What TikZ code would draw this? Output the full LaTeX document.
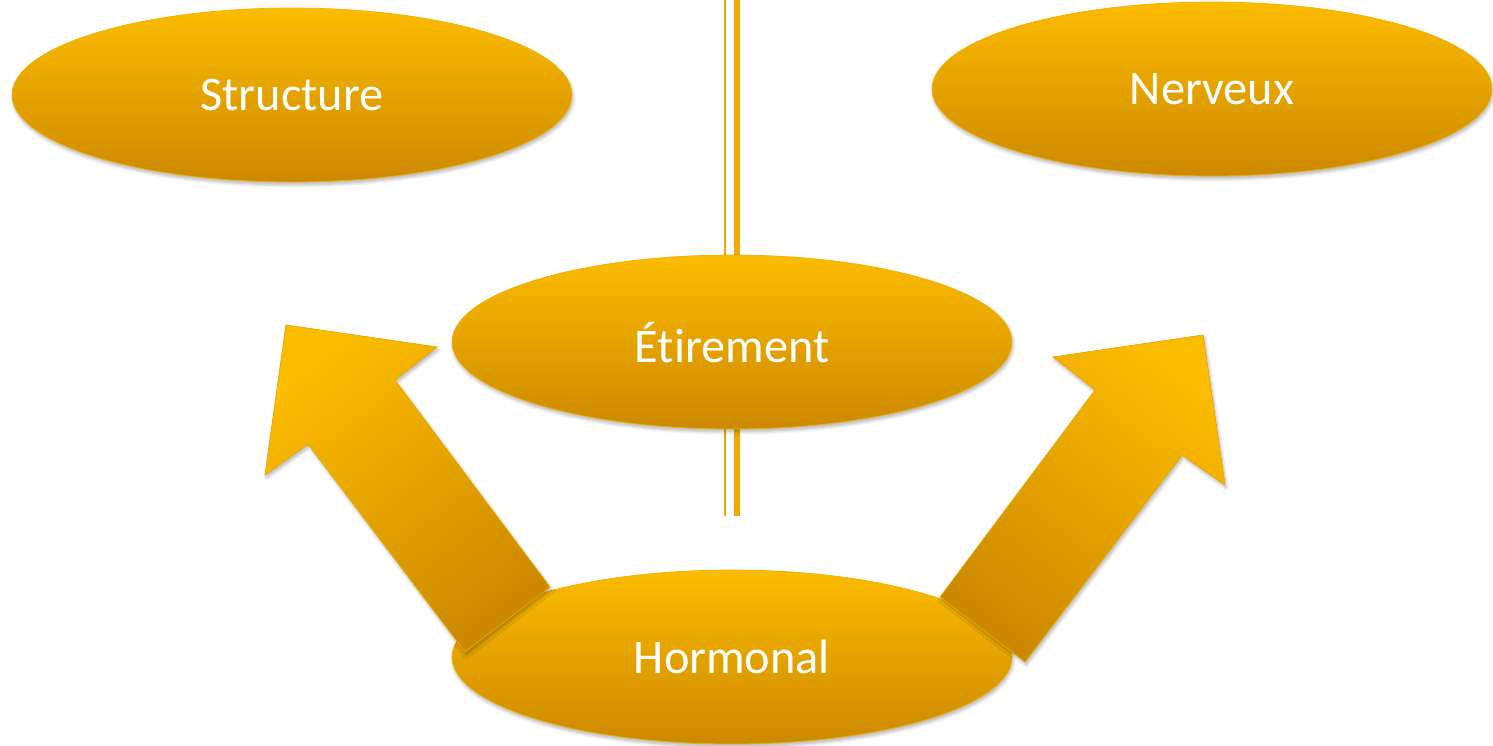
\documentclass[tikz,border=0pt]{standalone}
\usepackage{fontspec}
\setmainfont[Ligatures=NoCommon]{Carlito}
\usetikzlibrary{shapes.geometric,shadows.blur}
\definecolor{ambreHaut}{HTML}{FCBC00}
\definecolor{ambreBas}{HTML}{CC8900}
\definecolor{ambreBord}{HTML}{F2B000}
\definecolor{ambreTrait}{HTML}{F0AA00}
\tikzset{
  bulle/.style={ellipse,minimum width=11.2cm,minimum height=3.48cm,inner sep=0pt,
    top color=ambreHaut,bottom color=ambreBas,draw=ambreBord,line width=0.4pt,
    text=white,font=\fontsize{27.5}{32}\selectfont,
    blur shadow={shadow xshift=0.6pt,shadow yshift=-1.6pt,shadow blur steps=6,shadow opacity=30}},
  fleche/.style={top color=ambreHaut,bottom color=ambreBas,draw=ambreBord,line width=0.4pt,
    blur shadow={shadow xshift=0.8pt,shadow yshift=-1.6pt,shadow blur steps=6,shadow opacity=30}}
}
\begin{document}
\begin{tikzpicture}[x=0.02cm,y=-0.02cm]
  \useasboundingbox (0,0) rectangle (1493,745);
  % axe vertical
  \coordinate (haut) at (732,0);
  \coordinate (bas) at (732,516);
  \draw[ambreTrait,line width=0.85pt] ([xshift=-4] haut) -- ([xshift=-4] bas);
  \draw[ambreTrait,line width=3.4pt] ([xshift=2.7] haut) -- ([xshift=2.7] bas);
  % bulles
  \node[bulle] (structure) at (292,95)  {Structure};
  \node[bulle] (nerveux)   at (1212,89) {Nerveux};
  \node[bulle] (etirement) at (732,342) {Étirement};
  \node[bulle] (hormonal)  at (732,657) {Hormonal};
  % fleches
  \fill[fleche,shading angle=37] (286,325) -- (437,347) -- (395,380) -- (550,587)
    -- (465,652) -- (308,444) -- (265,475) -- cycle;
  \fill[fleche,shading angle=-37] (1203,335) -- (1225,485) -- (1182,455) -- (1025,662)
    -- (940,597) -- (1095,390) -- (1053,357) -- cycle;
\end{tikzpicture}
\end{document}
